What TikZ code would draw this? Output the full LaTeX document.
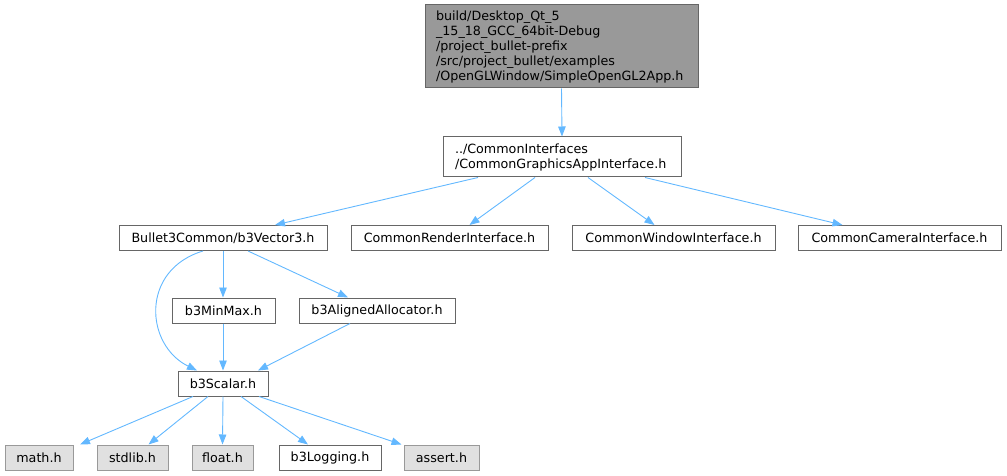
\documentclass[tikz,border=0pt]{standalone}
\usepackage{fontspec}
\setmainfont{DejaVu Sans}
\usetikzlibrary{arrows.meta}
\definecolor{edgeblue}{RGB}{99,184,255}
\definecolor{boxline}{RGB}{102,102,102}
\definecolor{topfill}{RGB}{153,153,153}
\definecolor{sysfill}{RGB}{224,224,224}
\definecolor{sysline}{RGB}{153,153,153}
\tikzset{
  fbox/.style={draw=boxline, fill=white, line width=1pt, inner sep=0pt,
               minimum height=25pt, font=\fontsize{12.7}{15}\selectfont},
  topbox/.style={fbox, fill=topfill, align=left, inner xsep=11pt},
  sysbox/.style={fbox, draw=sysline, fill=sysfill},
  dep/.style={edgeblue, line width=0.9pt, -{Triangle[length=10pt,width=7.5pt]}},
}
\begin{document}
\begin{tikzpicture}[x=1pt, y=-1pt]
  \useasboundingbox (0,0) rectangle (1007,476);
  % file nodes
  \node[topbox, minimum width=273pt, minimum height=83pt, text width=251pt] (app) at (561.5,46.5)
    {build/Desktop\_Qt\_5\\\_15\_18\_GCC\_64bit-Debug\\/project\_bullet-prefix\\/src/project\_bullet/examples\\/OpenGLWindow/SimpleOpenGL2App.h};
  \node[fbox, align=left, inner xsep=12pt, minimum width=238pt, minimum height=40pt, text width=214pt] (cgai) at (562,157)
    {../CommonInterfaces\\/CommonGraphicsAppInterface.h};
  \node[fbox, minimum width=208pt] (vec3) at (223,238) {Bullet3Common/b3Vector3.h};
  \node[fbox, minimum width=197pt] (render) at (449.5,238) {CommonRenderInterface.h};
  \node[fbox, minimum width=203pt] (window) at (673.5,238) {CommonWindowInterface.h};
  \node[fbox, minimum width=203pt] (camera) at (899.5,238) {CommonCameraInterface.h};
  \node[fbox, minimum width=103pt] (minmax) at (223.5,310.5) {b3MinMax.h};
  \node[fbox, minimum width=156pt] (aligned) at (377,310.5) {b3AlignedAllocator.h};
  \node[fbox, minimum width=90pt] (scalar) at (223,383.5) {b3Scalar.h};
  \node[sysbox, minimum width=68pt] (math) at (39,457.5) {math.h};
  \node[sysbox, minimum width=71pt] (stdlib) at (132.5,457.5) {stdlib.h};
  \node[sysbox, minimum width=61pt] (float) at (222.5,457.5) {float.h};
  \node[fbox, minimum width=102pt] (logging) at (330,457.5) {b3Logging.h};
  \node[sysbox, minimum width=75pt] (assert) at (441.5,457.5) {assert.h};
  % include edges
  \draw[dep] (app.south) -- (cgai.north);
  \draw[dep] ([xshift=-84pt]cgai.south) -- ([xshift=52pt]vec3.north);
  \draw[dep] ([xshift=-27pt]cgai.south) -- ([xshift=20pt]render.north);
  \draw[dep] ([xshift=26pt]cgai.south) -- ([xshift=-19pt]window.north);
  \draw[dep] ([xshift=83pt]cgai.south) -- ([xshift=-57pt]camera.north);
  \draw[dep] ([xshift=-20pt]vec3.south) .. controls (140,270) and (145,345) .. ([xshift=-26pt]scalar.north);
  \draw[dep] (vec3.south) -- (vec3.south |- minmax.north);
  \draw[dep] ([xshift=25pt]vec3.south) -- ([xshift=-29pt]aligned.north);
  \draw[dep] (minmax.south -| scalar) -- (scalar.north);
  \draw[dep] ([xshift=-27pt]aligned.south) -- ([xshift=35pt]scalar.north);
  \draw[dep] ([xshift=-30pt]scalar.south) -- ([xshift=41pt]math.north);
  \draw[dep] ([xshift=-15pt]scalar.south) -- ([xshift=16pt]stdlib.north);
  \draw[dep] (scalar.south) -- (float.north);
  \draw[dep] ([xshift=18pt]scalar.south) -- ([xshift=-22pt]logging.north);
  \draw[dep] ([xshift=36pt]scalar.south) -- ([xshift=-40pt]assert.north);
\end{tikzpicture}
\end{document}
